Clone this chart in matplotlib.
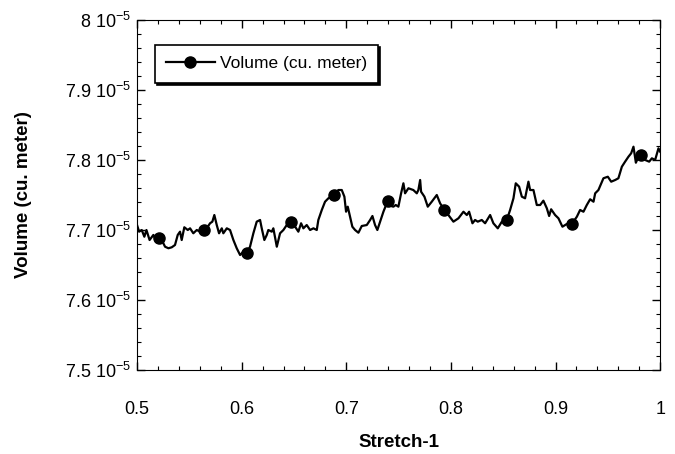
from matplotlib import pyplot as plt
from matplotlib.ticker import FixedLocator, MultipleLocator, FuncFormatter
import numpy as np

# Volume trace (y in units of 1e-5 cu. meter)
stretch = [0.500, 0.502, 0.5045, 0.507, 0.509, 0.512, 0.5156, 0.519, 0.521, 0.5236,
           0.5268, 0.530, 0.5332, 0.5363, 0.5389, 0.5411, 0.5427, 0.5452, 0.5485, 0.5507,
           0.5538, 0.5571, 0.5602, 0.5636, 0.5666, 0.5698, 0.572, 0.5739, 0.5762, 0.5784,
           0.581, 0.5825, 0.5858, 0.5889, 0.5921, 0.5953, 0.5985, 0.6016, 0.6049, 0.608,
           0.6112, 0.6144, 0.6176, 0.6192, 0.6217, 0.624, 0.6255, 0.6288, 0.6303, 0.6336,
           0.6367, 0.6399, 0.6431, 0.6472, 0.6511, 0.6542, 0.6568, 0.659, 0.6622, 0.6654,
           0.6686, 0.6718, 0.6733, 0.6766, 0.6797, 0.6829, 0.6886, 0.6924, 0.6957, 0.6982,
           0.6998, 0.7014, 0.7036, 0.7058, 0.7084, 0.7116, 0.7148, 0.7196, 0.7228, 0.725,
           0.7275, 0.7297, 0.7323, 0.7355, 0.7397, 0.7428, 0.745, 0.7473, 0.7498, 0.7524,
           0.7546, 0.7562, 0.7594, 0.7641, 0.7674, 0.7689, 0.7706, 0.7715, 0.7747, 0.7779,
           0.7817, 0.7865, 0.7897, 0.7938, 0.7976, 0.8024, 0.8072, 0.812, 0.8152, 0.8174,
           0.8206, 0.8231, 0.8257, 0.8295, 0.8327, 0.8375, 0.8406, 0.8448, 0.8487, 0.8534,
           0.8566, 0.8598, 0.862, 0.8652, 0.8678, 0.8709, 0.8741, 0.8757, 0.8789, 0.8821,
           0.8853, 0.8884, 0.8917, 0.8939, 0.8958, 0.8996, 0.9028, 0.9066, 0.9108, 0.9156,
           0.9204, 0.9235, 0.9267, 0.9299, 0.9331, 0.9363, 0.9379, 0.941, 0.9458, 0.950,
           0.9532, 0.957, 0.9601, 0.9634, 0.9665, 0.9697, 0.9723, 0.9745, 0.9768, 0.9793,
           0.9818, 0.9857, 0.9895, 0.9921, 0.9952, 0.9984, 1.000]
volume = [7.7071, 7.6976, 7.700, 7.6904, 7.700, 7.6857, 7.6929, 7.6833, 7.6886, 7.6857,
          7.6761, 7.6739, 7.6753, 7.6786, 7.6929, 7.6976, 7.6857, 7.7039, 7.700, 7.7024,
          7.6953, 7.700, 7.6976, 7.6993, 7.7024, 7.7096, 7.7119, 7.7214, 7.7071, 7.6953,
          7.7024, 7.6953, 7.7024, 7.700, 7.6857, 7.6739, 7.6643, 7.669, 7.6667, 7.6761,
          7.6953, 7.7119, 7.7143, 7.7024, 7.6857, 7.6929, 7.700, 7.6976, 7.7024, 7.6761,
          7.6953, 7.700, 7.7071, 7.7119, 7.7047, 7.6976, 7.7096, 7.7024, 7.7071, 7.700,
          7.7024, 7.700, 7.7143, 7.7286, 7.7404, 7.7453, 7.750, 7.7571, 7.7571, 7.7476,
          7.7261, 7.7333, 7.719, 7.7047, 7.700, 7.6961, 7.7057, 7.7071, 7.7143, 7.720,
          7.7071, 7.700, 7.7119, 7.7261, 7.7419, 7.7343, 7.7333, 7.7357, 7.7333, 7.7524,
          7.7667, 7.7524, 7.7596, 7.7571, 7.7524, 7.7571, 7.7714, 7.7547, 7.7476, 7.7333,
          7.7404, 7.750, 7.7381, 7.7286, 7.7214, 7.7119, 7.7167, 7.7261, 7.7214, 7.7261,
          7.7096, 7.7143, 7.7119, 7.7143, 7.7096, 7.7214, 7.7096, 7.7024, 7.7119, 7.7143,
          7.7286, 7.7453, 7.7667, 7.7619, 7.7476, 7.7453, 7.769, 7.7571, 7.7571, 7.7357,
          7.7357, 7.7419, 7.731, 7.720, 7.7296, 7.7214, 7.7167, 7.7047, 7.7086, 7.7086,
          7.719, 7.7286, 7.7261, 7.7357, 7.7439, 7.7404, 7.7524, 7.7571, 7.7739, 7.7761,
          7.769, 7.7714, 7.7739, 7.7904, 7.7976, 7.8047, 7.8096, 7.819, 7.7961, 7.8047,
          7.8071, 7.800, 7.7976, 7.8024, 7.800, 7.8167, 7.8119]
# stretch values where the plot shows a marker
marker_at = [0.521, 0.5636, 0.6049, 0.6472, 0.6886, 0.7397, 0.7938, 0.8534, 0.9156, 0.9818]

x = np.array(stretch)
y = np.array(volume) * 1e-5
marks = [int(np.argmin(np.abs(x - m))) for m in marker_at]

plt.rcParams['font.family'] = ['Liberation Sans', 'DejaVu Sans']
plt.rcParams['mathtext.fontset'] = 'custom'
plt.rcParams['mathtext.rm'] = 'Liberation Sans'
plt.rcParams['mathtext.it'] = 'Liberation Sans:italic'
plt.rcParams['mathtext.bf'] = 'Liberation Sans:bold'

fig = plt.figure(figsize=(6.75, 4.54), dpi=100)
ax = fig.add_axes([0.203, 0.185, 0.775, 0.771])

ax.plot(x, y, color='black', lw=1.6, marker='o', markersize=8,
        markevery=marks, label='Volume (cu. meter)')

ax.set_xlim(0.5, 1.0)
ax.set_ylim(7.5e-5, 8.0e-5)
ax.xaxis.set_major_locator(MultipleLocator(0.1))
ax.xaxis.set_minor_locator(MultipleLocator(0.02))
ax.yaxis.set_major_locator(FixedLocator(np.arange(7.5, 8.01, 0.1) * 1e-5))
ax.yaxis.set_minor_locator(FixedLocator(np.arange(7.5, 8.01, 0.02) * 1e-5))


def ylabel_fmt(v, pos):
    m = v * 1e5
    s = '%d' % round(m) if abs(m - round(m)) < 1e-6 else '%.1f' % m
    return s + r' 10$^{-5}$'


def xlabel_fmt(v, pos):
    return '1' if abs(v - 1) < 1e-9 else '%.1f' % v


ax.yaxis.set_major_formatter(FuncFormatter(ylabel_fmt))
ax.xaxis.set_major_formatter(FuncFormatter(xlabel_fmt))
ax.tick_params(which='both', direction='in', top=True, right=True, labelsize=13)
ax.tick_params(which='major', length=6, width=1)
ax.tick_params(which='minor', length=3, width=0.8)
ax.tick_params(axis='x', pad=22)
ax.tick_params(axis='y', pad=4)

ax.set_xlabel('Stretch-1', fontsize=13.5, fontweight='bold', labelpad=12)
ax.set_ylabel('Volume (cu. meter)', fontsize=13.5, fontweight='bold', labelpad=24)

leg = ax.legend(loc='upper left', bbox_to_anchor=(0.034, 0.929), borderaxespad=0,
                fontsize=12.5, fancybox=False, edgecolor='black', framealpha=1,
                shadow={'color': 'black', 'alpha': 1.0, 'ox': 1.5, 'oy': -1.5},
                handlelength=2.8, handletextpad=0.3, borderpad=0.65)
leg.get_frame().set_linewidth(1.2)

fig.savefig('out.png', dpi=100)
